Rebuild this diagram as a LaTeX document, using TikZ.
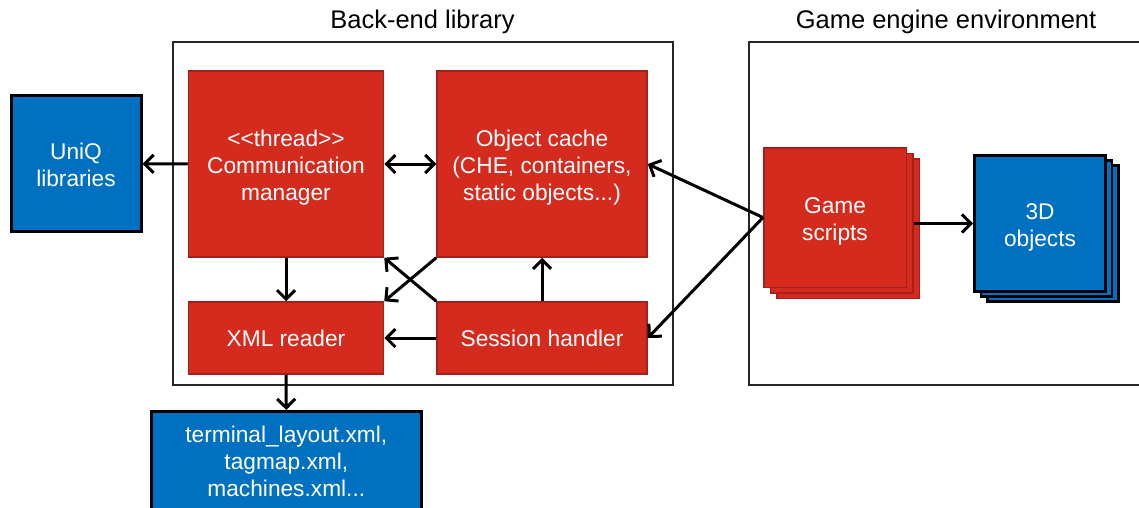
\documentclass[tikz,border=0pt]{standalone}
\usepackage{fontspec}
\setmainfont{Liberation Sans}
\usetikzlibrary{arrows.meta,calc}
\definecolor{boxred}{HTML}{D52B1E}
\definecolor{boxredline}{HTML}{A3211A}
\definecolor{boxblue}{HTML}{0070C0}
% struts that fix the height of the first and the depth of the last text line
\newcommand\firstlinepad{\rule{0pt}{23pt}}
\newcommand\lastlinepad{\rule[-4.5pt]{0pt}{0pt}}

\begin{document}
\begin{tikzpicture}[x=1pt,y=-1pt,
  frame/.style={draw=black!85, line width=1.3pt, inner sep=0pt},
  boxtext/.style={font=\fontsize{22.7}{27}\selectfont, text=white, align=center},
  redbox/.style={boxtext, draw=boxredline, line width=1.5pt, fill=boxred, inner sep=0pt},
  bluebox/.style={boxtext, draw=black, line width=3pt, fill=boxblue, inner sep=0pt},
  backblue/.style={draw=black, line width=2.5pt, fill=boxblue},
  link/.style={line width=3pt, -{Straight Barb[length=9pt,width=18pt]}},
  twoway/.style={line width=3pt, {Straight Barb[length=9pt,width=18pt]}-{Straight Barb[length=9pt,width=18pt]}},
  title/.style={font=\fontsize{25.5}{28}\selectfont, anchor=base}]

\useasboundingbox (0,0) rectangle (1139,508);
\clip (0,0) rectangle (1139,508);

% Containers
\node[frame, minimum width=500pt, minimum height=343pt] (backend) at (423,213.5) {};
\node[title] (backendtitle) at (422.5,29) {Back-end library};
\node[frame, minimum width=394pt, minimum height=343pt] (engine) at (946,213.5) {};
\node[title] (enginetitle) at (946,29) {Game engine environment};

% Back-end components
\node[redbox, minimum width=195pt, minimum height=186pt] (comm) at (286,164)
  {\firstlinepad<{}<thread>{}>\\Communication\\manager\lastlinepad};
\node[redbox, minimum width=210pt, minimum height=186pt] (cache) at (542,164)
  {\firstlinepad Object cache\\(CHE, containers,\\static objects...)\lastlinepad};
\node[redbox, minimum width=195pt, minimum height=72pt] (xml) at (286,338) {XML reader};
\node[redbox, minimum width=210pt, minimum height=72pt] (session) at (542,338) {Session handler};

% External libraries and data files
\node[bluebox, minimum width=130pt, minimum height=136pt] (uniq) at (76,163.8)
  {\firstlinepad UniQ\\libraries\lastlinepad};
\node[bluebox, minimum width=270pt, minimum height=148pt] (files) at (286.3,485.5) {};
\node[boxtext, anchor=north, inner sep=0pt] (filestext) at (286.3,426)
  {terminal\_layout.xml,\\tagmap.xml,\\machines.xml...};

% Game engine side: stacked scripts and objects
\node[redbox, minimum width=142.5pt, minimum height=139.5pt] (gs3) at (848,228.5) {};
\node[redbox, minimum width=142.5pt, minimum height=139.5pt] (gs2) at (841.5,223) {};
\node[redbox, minimum width=142.5pt, minimum height=139.5pt] (gs) at (835,217.5)
  {\firstlinepad Game\\scripts\lastlinepad};

\node[backblue, minimum width=131pt, minimum height=136pt] (td3) at (1053,233.5) {};
\node[backblue, minimum width=131pt, minimum height=136pt] (td2) at (1046.5,228.5) {};
\node[bluebox, minimum width=131pt, minimum height=136pt] (td) at (1040,223.5)
  {\firstlinepad 3D\\objects\lastlinepad};

% Connections
\draw[link] (comm.west) -- (uniq.east);
\draw[twoway] (comm.east) -- (cache.west);
\draw[link] (comm.south) -- (xml.north);
\draw[link] (xml.south) -- (files.north);
\draw[link] (session.west) -- (xml.east);
\draw[link] (session.north) -- (cache.south);
\draw[link] (cache.south west) -- (xml.north east);
\draw[link] (session.north west) -- (comm.south east);
\draw[link] (gs.west) -- (cache.east);
\draw[link] (gs.west) -- (session.east);
\draw[link] (gs2.east |- td.west) -- (td.west);
\end{tikzpicture}
\end{document}
